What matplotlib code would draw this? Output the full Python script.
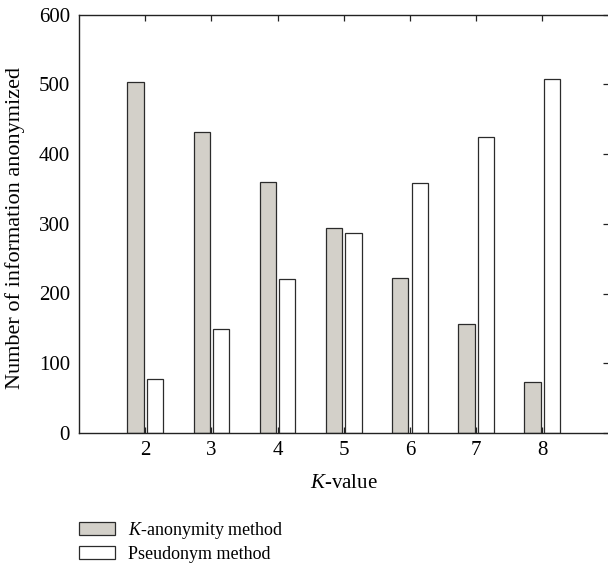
import numpy as np
import matplotlib
matplotlib.use('Agg')
import matplotlib.pyplot as plt

# 字体设置: Times-like serif, italic K via mathtext
plt.rcParams['font.family'] = ['Liberation Serif', 'DejaVu Serif']
plt.rcParams['mathtext.fontset'] = 'custom'
plt.rcParams['mathtext.rm'] = 'Liberation Serif'
plt.rcParams['mathtext.it'] = 'Liberation Serif:italic'

k_values = [2, 3, 4, 5, 6, 7, 8]
k_anonymity = [503, 432, 360, 294, 222, 156, 73]
pseudonym = [77, 149, 221, 287, 359, 424, 508]

grey = '#d3d0c9'
edge = '#2b2b2b'

fig = plt.figure(figsize=(6.08, 5.69), dpi=100)
ax = fig.add_axes([79 / 608, 136 / 569, 529.5 / 608, 418.5 / 569])

x = np.array(k_values)
w = 0.245
ax.bar(x - 0.147, k_anonymity, width=w, color=grey, edgecolor=edge,
       linewidth=0.9, label='$K$-anonymity method')
ax.bar(x + 0.147, pseudonym, width=w, color='white', edgecolor=edge,
       linewidth=0.9, label='Pseudonym method')

ax.set_xlim(1, 9)
ax.set_ylim(0, 600)
ax.set_xticks(k_values)
ax.set_yticks([0, 100, 200, 300, 400, 500, 600])
ax.set_axisbelow(True)

ax.tick_params(direction='in', top=True, right=True, labelsize=15,
               length=4, width=0.9, color='#222222')
ax.tick_params(axis='y', left=False, pad=6.5)
ax.tick_params(axis='x', pad=6)
for s in ax.spines.values():
    s.set_linewidth(1.0)
    s.set_color('#222222')
ax.spines['right'].set_visible(False)

ax.set_ylabel('Number of information anonymized', fontsize=16)
ax.yaxis.set_label_coords(-0.102, 0.49)
ax.set_xlabel('$K$-value', fontsize=15)
ax.xaxis.set_label_coords(0.5, -0.097)

fig.legend(loc='upper left', bbox_to_anchor=(75 / 608, 1 - 516 / 569),
           frameon=False, fontsize=13, handlelength=2.0, handleheight=0.72,
           handletextpad=0.72, labelspacing=0.29, borderpad=0.2,
           borderaxespad=0)

plt.savefig('out.png', dpi=100)
